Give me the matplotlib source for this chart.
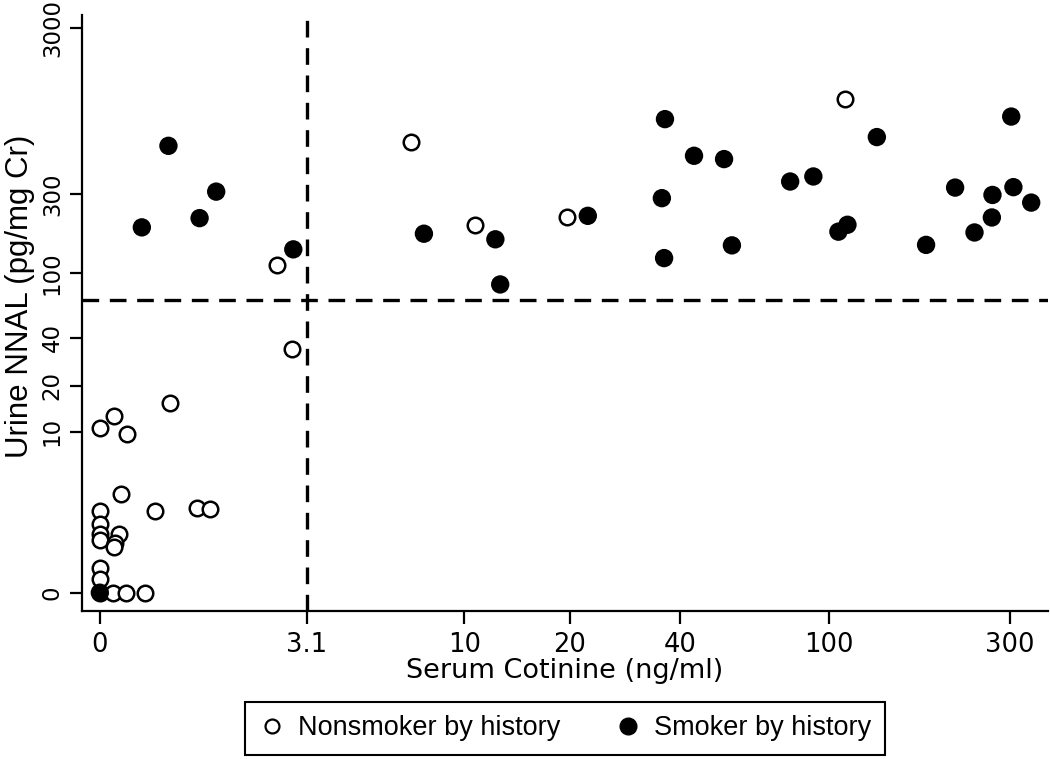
import numpy as np
import matplotlib
matplotlib.use('Agg')
import matplotlib.pyplot as plt
from matplotlib.lines import Line2D

# Nonsmoker by history (open circles): serum cotinine (ng/ml), urine NNAL (pg/mg Cr)
non_x = [0.66, 0.11, 0, 0.22, 0.17, 0.49, 0.99, 1.18, 0, 0, 0, 0, 0.15, 0.12, 0.11,
         0, 0, 0, 0.1, 0.21, 0.39, 2.38, 2.73, 6.9, 10.7, 19.6, 110]
non_y = [15.4, 12.8, 10.6, 9.7, 3.5, 2.5, 2.7, 2.65, 2.5, 1.9, 1.5, 1.3, 1.5, 1.2, 1.05,
         0.5, 0.25, 0, 0, 0, 0, 112, 34, 623, 196, 218, 1125]

# Smoker by history (filled circles)
smk_x = [0.64, 1.27, 1.03, 0.36, 2.76, 7.56, 12.3, 12.7, 22.4, 36.4, 43.6, 52.5, 35.7,
         36.2, 55.1, 78.8, 90.8, 105.8, 111.8, 133.7, 180.3, 215, 241.8, 268.6, 269.6,
         302, 306, 340.8, 0]
smk_y = [588, 311, 215, 189, 139, 173, 160, 85, 222, 852, 512, 489, 284,
         123, 147, 358, 384, 178, 196, 664, 148, 329, 176, 217, 297,
         883, 331, 267, 0]

x_ticks = [0, 3.1, 10, 20, 40, 100, 300]
x_labels = ['0', '3.1', '10', '20', '40', '100', '300']
y_ticks = [0, 10, 20, 40, 100, 300, 3000]
y_labels = ['0', '10', '20', '40', '100', '300', '3000']
cot_cut = 3.1
nnal_cut = 68


# log scale shifted so zero can be shown
def fwd_x(x):
    return np.log10(np.maximum(np.asarray(x, dtype=float) + 1.25, 1e-6))


def inv_x(v):
    return 10 ** np.asarray(v, dtype=float) - 1.25


def fwd_y(y):
    return np.log10(np.maximum(np.asarray(y, dtype=float) + 1.2, 1e-6))


def inv_y(v):
    return 10 ** np.asarray(v, dtype=float) - 1.2


plt.rcParams['font.family'] = ['DejaVu Sans']

fig = plt.figure(figsize=(10.5, 7.59), dpi=100)
ax = fig.add_axes([0.078, 0.1954, 0.92, 0.785])

ax.set_xscale('function', functions=(fwd_x, inv_x))
ax.set_yscale('function', functions=(fwd_y, inv_y))

ax.scatter(non_x, non_y, s=125, facecolors='white', edgecolors='black',
           linewidths=1.8, zorder=3)
ax.scatter(smk_x, smk_y, s=175, c='black', edgecolors='none', zorder=4)

# cut-off lines
ax.axvline(cot_cut, color='black', lw=2.4, ls=(0, (5, 3.2)), zorder=2)
ax.axhline(nnal_cut, color='black', lw=2.4, ls=(0, (5, 3.2)), zorder=2)

ax.set_xlim(-0.128, 377)
ax.set_ylim(-0.265, 3620)

ax.set_xticks(x_ticks)
ax.set_xticklabels(x_labels)
ax.set_yticks(y_ticks)
ax.set_yticklabels(y_labels, rotation=90, va='center')
ax.minorticks_off()

ax.tick_params(direction='out', length=9, width=1.6, pad=6)
ax.tick_params(axis='x', labelsize=18.5)
ax.tick_params(axis='y', labelsize=16.5, pad=4)

for s in ['top', 'right']:
    ax.spines[s].set_visible(False)
for s in ['left', 'bottom']:
    ax.spines[s].set_linewidth(1.6)

ax.set_xlabel('Serum Cotinine (ng/ml)', fontsize=19.5, labelpad=0)
ax.set_ylabel('Urine NNAL (pg/mg Cr)', fontsize=22.5,
              family=['Liberation Sans', 'DejaVu Sans'])
ax.yaxis.set_label_coords(-0.049, 0.527)

handles = [
    Line2D([], [], ls='none', marker='o', ms=10, mfc='white', mec='black', mew=1.6),
    Line2D([], [], ls='none', marker='o', ms=12, mfc='black', mec='black'),
]
leg = fig.legend(handles, ['Nonsmoker by history', 'Smoker by history'],
                 loc='lower center', bbox_to_anchor=(0.538, 0.0), ncol=2,
                 fancybox=False, edgecolor='black', framealpha=1,
                 handletextpad=0.45, columnspacing=2.0, borderpad=0.5,
                 handlelength=1.0, borderaxespad=0.15,
                 prop={'family': ['Liberation Sans', 'DejaVu Sans'], 'size': 19.5})
leg.get_frame().set_linewidth(1.5)

fig.savefig('out.png', dpi=100)
